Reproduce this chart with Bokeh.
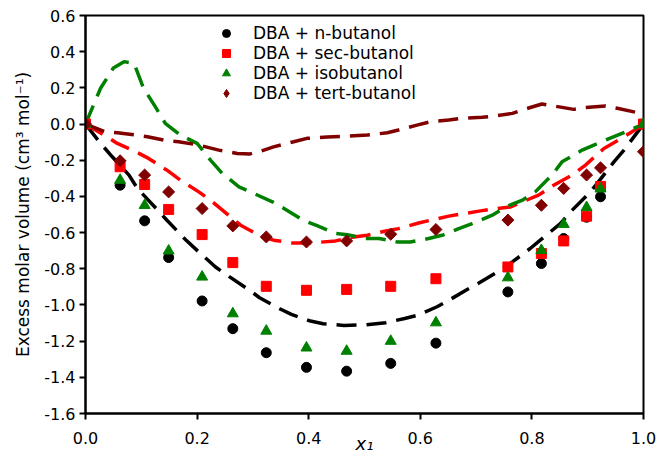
import numpy as np
from bokeh.plotting import figure
from bokeh.models import (Range1d, FixedTicker, PrintfTickFormatter, Legend,
                          LegendItem)
from bokeh.embed import file_html
from bokeh.resources import INLINE

# ---- experimental points ----
x_exp = [0.0, 0.062, 0.106, 0.149, 0.209, 0.264, 0.324, 0.396, 0.468, 0.547,
         0.628, 0.757, 0.817, 0.857, 0.898, 0.923, 1.0]
n_butanol = [0.0, -0.338, -0.535, -0.738, -0.978, -1.131, -1.264, -1.345, -1.366,
             -1.323, -1.211, -0.928, -0.771, -0.633, -0.515, -0.402, 0.0]
sec_butanol = [0.0, -0.236, -0.334, -0.472, -0.611, -0.766, -0.897, -0.919, -0.914,
               -0.897, -0.855, -0.790, -0.716, -0.646, -0.509, -0.345, 0.0]
iso_butanol = [0.0, -0.310, -0.449, -0.701, -0.845, -1.048, -1.144, -1.237, -1.255,
               -1.200, -1.098, -0.849, -0.698, -0.554, -0.461, -0.358, 0.0]
tert_butanol = [0.0, -0.203, -0.282, -0.375, -0.467, -0.563, -0.624, -0.652, -0.646,
                -0.609, -0.583, -0.531, -0.449, -0.356, -0.282, -0.242, -0.153]

# ---- dashed model curves ----
n_fit_x = [0, 0.027, 0.048, 0.078, 0.093, 0.125, 0.146, 0.179, 0.203, 0.233, 0.257,
           0.294, 0.312, 0.348, 0.369, 0.403, 0.426, 0.463, 0.50, 0.538, 0.572, 0.594,
           0.630, 0.649, 0.684, 0.705, 0.741, 0.765, 0.797, 0.815, 0.851, 0.869,
           0.902, 0.917, 0.947, 0.965, 1.0]
n_fit_y = [0, -0.107, -0.181, -0.282, -0.356, -0.461, -0.532, -0.638, -0.707, -0.790,
           -0.842, -0.919, -0.960, -1.021, -1.052, -1.089, -1.104, -1.113, -1.110,
           -1.098, -1.075, -1.058, -1.010, -0.978, -0.915, -0.879, -0.812, -0.762,
           -0.688, -0.642, -0.550, -0.486, -0.384, -0.328, -0.209, -0.144, 0]

sec_fit_x = [0, 0.033, 0.057, 0.090, 0.113, 0.146, 0.170, 0.203, 0.224, 0.260, 0.278,
             0.317, 0.337, 0.370, 0.406, 0.448, 0.481, 0.505, 0.538, 0.561, 0.597,
             0.618, 0.651, 0.672, 0.708, 0.729, 0.762, 0.783, 0.812, 0.839, 0.872,
             0.896, 0.929, 0.950, 0.989, 1.0]
sec_fit_y = [0, -0.061, -0.107, -0.153, -0.190, -0.255, -0.310, -0.375, -0.421,
             -0.513, -0.559, -0.624, -0.642, -0.657, -0.657, -0.646, -0.624, -0.615,
             -0.591, -0.578, -0.547, -0.532, -0.509, -0.498, -0.480, -0.470, -0.458,
             -0.430, -0.393, -0.338, -0.282, -0.227, -0.135, -0.098, -0.024, 0]

iso_fit_x = [0, 0.027, 0.050, 0.069, 0.087, 0.104, 0.125, 0.143, 0.170, 0.200, 0.224,
             0.245, 0.275, 0.302, 0.335, 0.355, 0.391, 0.415, 0.448, 0.469, 0.502,
             0.526, 0.559, 0.582, 0.615, 0.639, 0.669, 0.693, 0.729, 0.753, 0.783,
             0.806, 0.836, 0.854, 0.890, 0.911, 0.947, 0.968, 1.0]
iso_fit_y = [0, 0.198, 0.310, 0.345, 0.336, 0.198, 0.096, 0.004, -0.061, -0.107,
             -0.199, -0.273, -0.347, -0.384, -0.430, -0.465, -0.533, -0.562, -0.605,
             -0.612, -0.633, -0.633, -0.652, -0.652, -0.633, -0.615, -0.578, -0.550,
             -0.504, -0.458, -0.421, -0.375, -0.282, -0.209, -0.144, -0.116, -0.070,
             -0.043, 0]

tert_fit_x = [0, 0.036, 0.057, 0.090, 0.111, 0.146, 0.167, 0.203, 0.239, 0.272, 0.295,
              0.314, 0.337, 0.373, 0.397, 0.433, 0.466, 0.505, 0.541, 0.561, 0.594,
              0.618, 0.651, 0.675, 0.711, 0.732, 0.765, 0.786, 0.818, 0.839, 0.875,
              0.896, 0.932, 0.953, 0.989, 1.0]
tert_fit_y = [0, -0.043, -0.048, -0.061, -0.070, -0.092, -0.098, -0.116, -0.144,
              -0.163, -0.165, -0.150, -0.126, -0.098, -0.079, -0.072, -0.068, -0.061,
              -0.048, -0.033, -0.006, 0.013, 0.022, 0.032, 0.037, 0.044, 0.059,
              0.081, 0.111, 0.100, 0.081, 0.092, 0.100, 0.087, 0.063, 0.055]

labels = ["DBA + n-butanol", "DBA + sec-butanol", "DBA + isobutanol",
          "DBA + tert-butanol"]
x_ticks = [0.0, 0.2, 0.4, 0.6, 0.8, 1.0]
y_ticks = [-1.6, -1.4, -1.2, -1.0, -0.8, -0.6, -0.4, -0.2, 0.0, 0.2, 0.4, 0.6]

FONT = "DejaVu Sans"
BLACK, RED, GREEN, DRED = "#000000", "#ff0000", "#008000", "#800000"

p = figure(width=660, height=457, output_backend="svg", toolbar_location=None,
           x_range=Range1d(0, 1), y_range=Range1d(-1.6, 0.6),
           min_border_left=85, min_border_right=17, min_border_top=15,
           min_border_bottom=44)
p.grid.visible = False
p.outline_line_color = "black"
p.outline_line_width = 2
p.background_fill_color = "white"
p.border_fill_color = "white"

for ax in (p.xaxis[0], p.yaxis[0]):
    ax.axis_line_width = 2
    ax.axis_line_color = "black"
    ax.major_tick_line_width = 2
    ax.major_tick_out = 6
    ax.major_tick_in = 0
    ax.minor_tick_line_color = None
    ax.major_label_text_font = FONT
    ax.major_label_text_font_size = "16px"
    ax.major_label_text_color = "black"
    ax.formatter = PrintfTickFormatter(format="%.1f")

p.xaxis[0].ticker = FixedTicker(ticks=x_ticks)
p.yaxis[0].ticker = FixedTicker(ticks=y_ticks)
p.xaxis[0].major_label_standoff = 12
p.yaxis[0].major_label_standoff = 4

p.xaxis[0].axis_label = "x₁"
p.xaxis[0].axis_label_text_font = FONT
p.xaxis[0].axis_label_text_font_size = "18px"
p.xaxis[0].axis_label_text_font_style = "italic"
p.xaxis[0].axis_label_text_color = "black"
p.xaxis[0].axis_label_standoff = -14

p.yaxis[0].axis_label = "Excess molar volume (cm³ mol⁻¹)"
p.yaxis[0].axis_label_text_font = FONT
p.yaxis[0].axis_label_text_font_size = "17px"
p.yaxis[0].axis_label_text_font_style = "normal"
p.yaxis[0].axis_label_text_color = "black"
p.yaxis[0].axis_label_standoff = 8

dash = "20 10"
lw = 3.5
p.line(n_fit_x, n_fit_y, line_color=BLACK, line_width=lw, line_dash=dash)
p.line(sec_fit_x, sec_fit_y, line_color=RED, line_width=lw, line_dash=dash)
p.line(iso_fit_x, iso_fit_y, line_color=GREEN, line_width=lw, line_dash=dash)
p.line(tert_fit_x, tert_fit_y, line_color=DRED, line_width=lw, line_dash=dash)

r1 = p.scatter(x_exp, n_butanol, marker="circle", size=10, color=BLACK)
r2 = p.scatter(x_exp, sec_butanol, marker="square", size=10, color=RED)
r3 = p.scatter(x_exp, iso_butanol, marker="triangle", size=11, color=GREEN)
# diamond-shaped key for the legend (the legend ignores marker angle); it sits
# exactly beneath the last tert-butanol point, hidden by the rotated square
r4_key = p.scatter(x_exp[-1:], tert_butanol[-1:], marker="diamond", size=11,
                   color=DRED)
r4 = p.scatter(x_exp, tert_butanol, marker="square", angle=np.pi / 4, size=8.5,
               color=DRED)

legend = Legend(items=[LegendItem(label=labels[0], renderers=[r1]),
                       LegendItem(label=labels[1], renderers=[r2]),
                       LegendItem(label=labels[2], renderers=[r3]),
                       LegendItem(label=labels[3], renderers=[r4_key])],
                location=(131, 310))
legend.border_line_color = None
legend.background_fill_alpha = 0
legend.padding = 0
legend.margin = 0
legend.spacing = 0
legend.glyph_width = 20
legend.glyph_height = 20
legend.label_height = 20
legend.label_standoff = 17
legend.label_text_font = FONT
legend.label_text_font_size = "17px"
legend.label_text_color = "black"
p.add_layout(legend)

open("out.html", "w").write(file_html(p, INLINE))
